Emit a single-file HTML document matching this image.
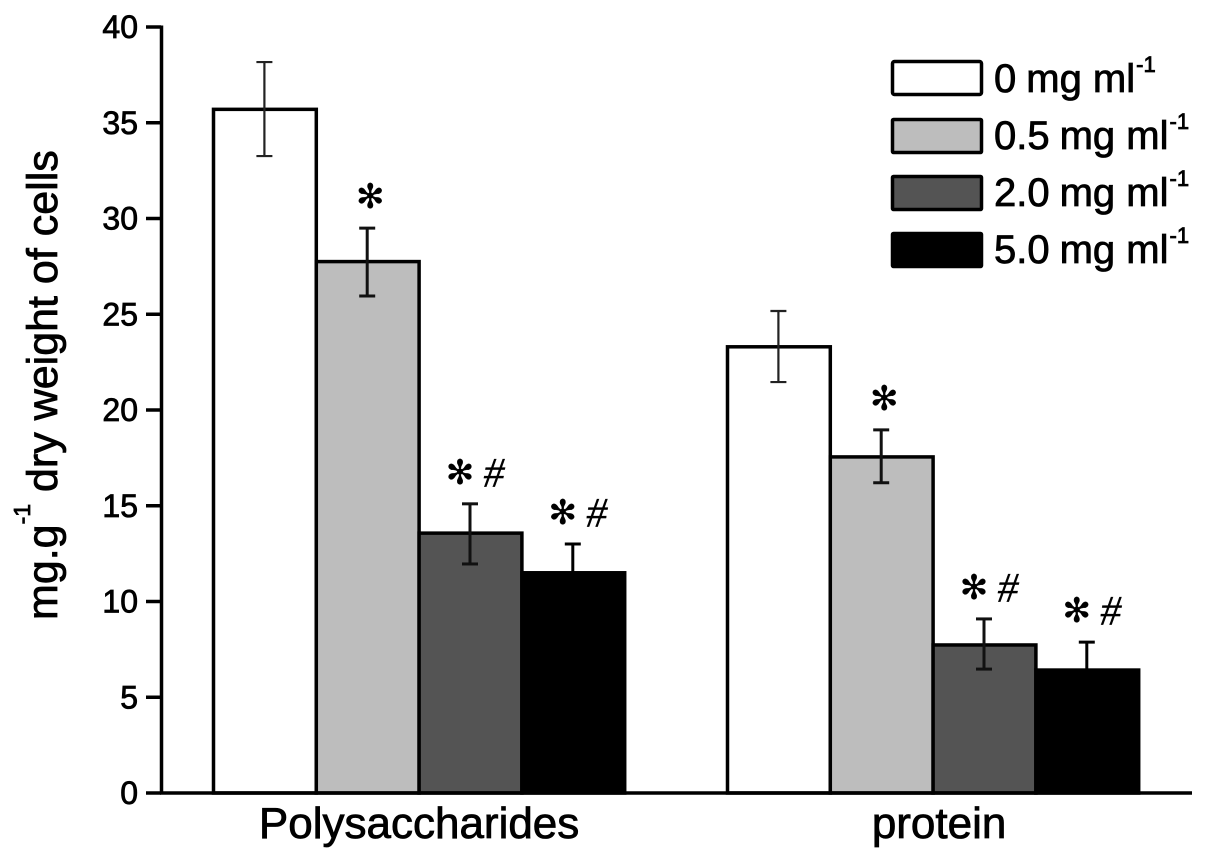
<!DOCTYPE html>
<html>
<head>
<meta charset="utf-8">
<style>
html,body{margin:0;padding:0;background:#fff}
svg{display:block}
text{font-family:"Liberation Sans",sans-serif;fill:#000;stroke:#000;stroke-width:.8}
</style>
</head>
<body>
<svg id="chart" width="1205" height="861" viewBox="0 0 1205 861" xmlns="http://www.w3.org/2000/svg">
<text transform="translate(57,620) rotate(-90)" font-size="43">mg.g<tspan font-size="23" dy="-27">-1</tspan><tspan dy="27"> dry weight of cells</tspan></text>
<g id="plot"></g>
<g>
<g><rect x="892.5" y="61.5" width="89" height="33" rx="2" fill="#fff" stroke="#000" stroke-width="3.5"/><text x="994" y="92" font-size="40">0<tspan dx="10">mg ml</tspan><tspan font-size="22" dx="1" dy="-20">-1</tspan></text></g>
<g><rect x="892.5" y="119.5" width="89" height="33" rx="1" fill="#bdbdbd" stroke="#000" stroke-width="3.5"/><text x="994" y="149" font-size="40">0.5<tspan dx="10">mg ml</tspan><tspan font-size="22" dx="1" dy="-20">-1</tspan></text></g>
<g><rect x="892.5" y="176.5" width="89" height="33" rx="1" fill="#545454" stroke="#000" stroke-width="3.5"/><text x="994" y="206" font-size="40">2.0<tspan dx="10">mg ml</tspan><tspan font-size="22" dx="1" dy="-20">-1</tspan></text></g>
<g><rect x="892.5" y="233.5" width="89" height="33" rx="1" fill="#000" stroke="#000" stroke-width="3.5"/><text x="994" y="263" font-size="40">5.0<tspan dx="10">mg ml</tspan><tspan font-size="22" dx="1" dy="-20">-1</tspan></text></g>
</g>
</svg>
<script>
const categories = ['Polysaccharides', 'protein'];
const yTicks = [0, 5, 10, 15, 20, 25, 30, 35, 40];
const seriesNames = ['0 mg ml-1', '0.5 mg ml-1', '2.0 mg ml-1', '5.0 mg ml-1'];
const series0 = [35.7, 23.3];
const series05 = [27.75, 17.55];
const series20 = [13.57, 7.73];
const series50 = [11.5, 6.42];
const errTop0 = [38.17, 25.17];
const errTop05 = [29.5, 18.96];
const errTop20 = [15.1, 9.09];
const errTop50 = [13.0, 7.88];
const errLow0 = [33.26, 21.46];
const errLow05 = [25.95, 16.2];
const errLow20 = [11.96, 6.47];
const errLow50 = [10.0, 5.0];
const marks0 = ['', ''];
const marks05 = ['*', '*'];
const marks20 = ['*#', '*#'];
const marks50 = ['*#', '*#'];

const fills = ['#ffffff', '#bdbdbd', '#545454', '#000000'];
const values = [series0, series05, series20, series50];
const errTop = [errTop0, errTop05, errTop20, errTop50];
const errLow = [errLow0, errLow05, errLow20, errLow50];
const marks = [marks0, marks05, marks20, marks50];

const NS = 'http://www.w3.org/2000/svg';
const plot = document.getElementById('plot');
const yScale = v => 793 - v * 19.15;
const groupScale = g => 213.5 + g * 514;
const BAR_W = 102.8;
const barLeft = (g, s) => groupScale(g) + s * BAR_W;

function add(tag, attrs, text) {
  const el = document.createElementNS(NS, tag);
  for (const k in attrs) el.setAttribute(k, attrs[k]);
  if (text !== undefined) el.textContent = text;
  plot.appendChild(el);
  return el;
}

values.forEach((vals, s) => {
  vals.forEach((v, g) => {
    const bar = add('rect', {x: barLeft(g, s), y: yScale(v), width: BAR_W, height: yScale(0) - yScale(v), fill: fills[s], stroke: '#000', 'stroke-width': 3.5});
    
    
  });
});

values.forEach((vals, s) => {
  vals.forEach((v, g) => {
    const cx = barLeft(g, s) + BAR_W / 2 - 0.5;
    const t = yScale(errTop[s][g]);
    const b = yScale(errLow[s][g]);
    const col = s === 0 ? '#222' : (s === 3 ? '#000' : '#111');
    const w = s === 0 ? 2.2 : 3;
    const parts = [[cx, t, cx, b], [cx - 8, t, cx + 8, t], [cx - 8, b, cx + 8, b]];
    parts.forEach(p => {
      const ln = add('line', {x1: p[0], y1: p[1], x2: p[2], y2: p[3], stroke: col, 'stroke-width': w});
      
      
    });
    const m = marks[s][g];
    if (m === '*') {
      const a = add('text', {x: cx + 3, y: t - 20, 'font-size': 34, 'text-anchor': 'middle', style: 'font-family:"DejaVu Sans",sans-serif;stroke-width:.3'}, '\u273B');
      
      
    } else if (m === '*#') {
      const a = add('text', {x: cx - 10, y: t - 20, 'font-size': 34, 'text-anchor': 'middle', style: 'font-family:"DejaVu Sans",sans-serif;stroke-width:.3'}, '\u273B');
      
      
      const h = add('text', {x: cx + 24, y: t - 17, 'font-size': 42, 'text-anchor': 'middle', 'font-style': 'italic', style: 'font-family:"Liberation Serif",serif;stroke-width:.3'}, '#');
      
      
    }
  });
});

const yAxis = add('line', {x1: 161.5, y1: yScale(40) - 1.5, x2: 161.5, y2: yScale(0) + 1.5, stroke: '#000', 'stroke-width': 3.5});


const xAxis = add('line', {x1: 160, y1: yScale(0), x2: 1192, y2: yScale(0), stroke: '#000', 'stroke-width': 3.5});



yTicks.forEach(t => {
  const tk = add('line', {x1: 146, y1: yScale(t), x2: 161, y2: yScale(t), stroke: '#000', 'stroke-width': 3.5});
  
  
  const lb = add('text', {x: 138, y: yScale(t) + 11, 'font-size': 32, 'text-anchor': 'end'}, String(t));
  
  
});

categories.forEach((c, g) => {
  const lb = add('text', {x: groupScale(g) + BAR_W * 2 + (g === 0 ? 0 : 6), y: 838, 'font-size': 44, 'text-anchor': 'middle'}, c);
  
  
});
</script>
</body>
</html>
